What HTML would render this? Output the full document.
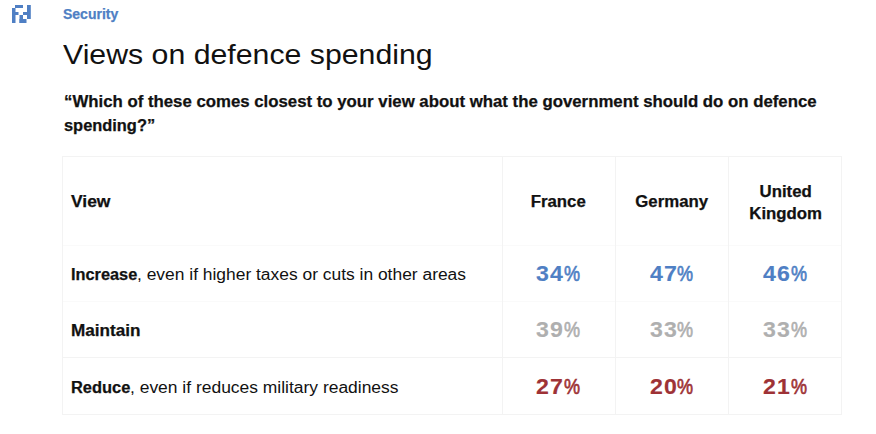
<!DOCTYPE html>
<html><head><meta charset="utf-8">
<style>
html,body{margin:0;padding:0;background:#fff;}
body{width:876px;height:434px;position:relative;overflow:hidden;font-family:"Liberation Sans",sans-serif;color:#111;}
.a{position:absolute;white-space:nowrap;line-height:1;transform-origin:0 0;}
.b{font-weight:bold;-webkit-text-stroke:0.25px currentColor;}
.vl{position:absolute;width:1px;background:#f3f3f3;}
.hl{position:absolute;height:1px;background:#f3f3f3;}
.c{position:absolute;text-align:center;white-space:nowrap;line-height:1;}
.c span{display:inline-block;transform-origin:50% 0;}
.n{position:absolute;white-space:nowrap;line-height:1;font-size:22px;font-weight:bold;}
.n .d{display:inline-block;transform-origin:0 0;transform:scaleX(1.05);letter-spacing:1.2px;-webkit-text-stroke:0.15px currentColor;}
.n .pc{position:absolute;left:27.9px;top:0;font-weight:normal;transform-origin:0 0;transform:scaleX(0.82);-webkit-text-stroke:0.7px currentColor;}
.blue{color:#4f7fc4;}
.gray{color:#afafaf;}
.red{color:#9e3236;}
</style></head><body>
<svg style="position:absolute;left:0;top:0" width="40" height="30">
  <g fill="#4f7fc4">
    <rect x="15" y="5" width="8" height="3"/>
    <rect x="12" y="8" width="3.5" height="15"/>
    <rect x="15" y="12" width="3.5" height="3"/>
    <rect x="27" y="5" width="3.8" height="14"/>
    <rect x="23" y="12" width="4" height="3"/>
    <rect x="19.5" y="15" width="3.5" height="8"/>
    <rect x="19.5" y="19" width="7" height="4"/>
  </g>
</svg>
<div class="a b" id="sec" style="left:63px;top:7px;font-size:14px;color:#4f7fc4;">Security</div>
<div class="a" id="title" style="left:63px;top:40.3px;font-size:28.5px;color:#111;transform:scaleX(1.062);">Views on defence spending</div>
<div class="a b" id="q1" style="left:64px;top:94px;font-size:16px;transform:scaleX(1.049);">“Which of these comes closest to your view about what the government should do on defence</div>
<div class="a b" id="q2" style="left:64px;top:118px;font-size:16px;transform:scaleX(1.025);">spending?”</div>

<div class="hl" style="left:62px;top:156px;width:780px;"></div>
<div class="hl" style="left:62px;top:245px;width:780px;background:#fafafa;"></div>
<div class="hl" style="left:62px;top:301px;width:780px;background:#fafafa;"></div>
<div class="hl" style="left:62px;top:357px;width:780px;"></div>
<div class="hl" style="left:62px;top:414px;width:780px;"></div>
<div class="vl" style="left:62px;top:156px;height:259px;"></div>
<div class="vl" style="left:502px;top:156px;height:259px;"></div>
<div class="vl" style="left:615px;top:156px;height:259px;"></div>
<div class="vl" style="left:728px;top:156px;height:259px;"></div>
<div class="vl" style="left:841px;top:156px;height:259px;"></div>

<div class="a b" id="hview" style="left:71px;top:194px;font-size:16px;transform:scaleX(1.09);">View</div>
<div class="c b" id="hfr" style="left:502px;width:113px;top:194px;font-size:16px;"><span style="transform:scaleX(1.05)">France</span></div>
<div class="c b" id="hde" style="left:615px;width:113px;top:194px;font-size:16px;"><span style="transform:scaleX(1.05)">Germany</span></div>
<div class="c b" id="huk" style="left:729px;width:113px;top:181px;font-size:16px;line-height:21.6px;"><span style="transform:scaleX(1.05)">United<br>Kingdom</span></div>

<div class="a b" id="r1b" style="left:71px;top:266.5px;font-size:16px;transform:scaleX(1.02);">Increase</div>
<div class="a" id="r1r" style="left:137px;top:266.5px;font-size:16px;transform:scaleX(1.088);">, even if higher taxes or cuts in other areas</div>
<div class="a b" id="r2" style="left:71px;top:323px;font-size:16px;transform:scaleX(1.07);">Maintain</div>
<div class="a b" id="r3b" style="left:71px;top:380px;font-size:16px;transform:scaleX(1.027);">Reduce</div>
<div class="a" id="r3r" style="left:130px;top:380px;font-size:16px;transform:scaleX(1.09);">, even if reduces military readiness</div>

<div class="n blue" style="left:536.45px;top:263px;"><span class="d">34</span><span class="pc">%</span></div>
<div class="n blue" style="left:649.6px;top:263px;"><span class="d">47</span><span class="pc">%</span></div>
<div class="n blue" style="left:762.7px;top:263px;"><span class="d">46</span><span class="pc">%</span></div>
<div class="n gray" style="left:536.45px;top:319px;"><span class="d">39</span><span class="pc">%</span></div>
<div class="n gray" style="left:649.6px;top:319px;"><span class="d">33</span><span class="pc">%</span></div>
<div class="n gray" style="left:762.7px;top:319px;"><span class="d">33</span><span class="pc">%</span></div>
<div class="n red" style="left:536.45px;top:376px;"><span class="d">27</span><span class="pc">%</span></div>
<div class="n red" style="left:649.6px;top:376px;"><span class="d">20</span><span class="pc">%</span></div>
<div class="n red" style="left:762.7px;top:376px;"><span class="d">21</span><span class="pc">%</span></div>
</body></html>
